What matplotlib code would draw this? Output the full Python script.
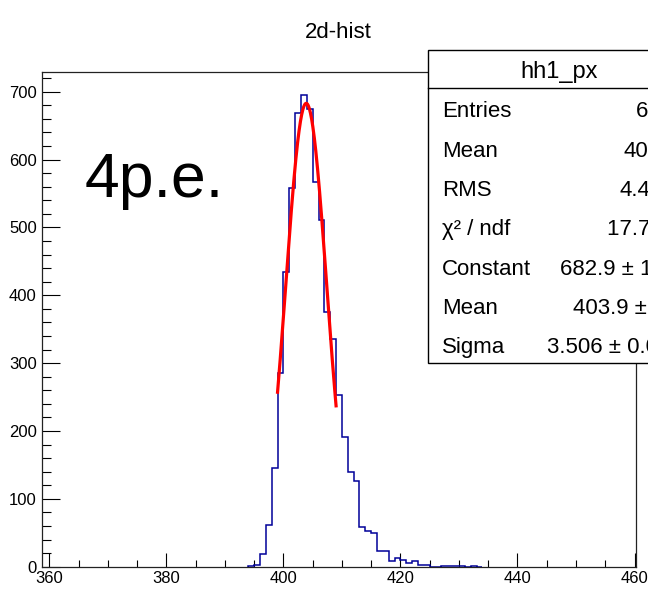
import numpy as np
import matplotlib
matplotlib.use("Agg")
import matplotlib.pyplot as plt
from matplotlib.patches import Rectangle
from matplotlib.lines import Line2D

plt.rcParams['font.family'] = ['Liberation Sans', 'DejaVu Sans']

# histogram data (1-unit bins), counts
bin_lo = 394
counts = [1, 3, 19, 61, 146, 286, 435, 558, 668, 695,
          674, 567, 511, 376, 335, 253, 191, 139, 127, 59,
          52, 50, 23, 23, 9, 13, 10, 5, 9, 2,
          2, 0, 0, 1, 1, 1, 1, 0, 1, 0]
edges = np.arange(bin_lo, bin_lo + len(counts) + 1)

# gaussian fit shown in the stats box
fit_const = 682.9
fit_mean = 403.9
fit_sigma = 3.506
fit_range = (399.0, 409.0)

title = "2d-hist"
label = "4p.e."
stats_name = "hh1_px"
stats_keys = ["Entries", "Mean", "RMS", "\u03c7\u00b2 / ndf", "Constant", "Mean", "Sigma"]
stats_vals = ["6306", "404.5", "4.468", "17.72 / 8", "682.9 \u00b1 11.0",
              "403.9 \u00b1 0.0", "3.506 \u00b1 0.036"]

W, H = 648, 590
fig = plt.figure(figsize=(W / 100, H / 100), dpi=100)

def fx(x):
    return x / W

def fy(y):
    return 1 - y / H

ax = fig.add_axes([fx(42.3), fy(566.7), (635.7 - 42.3) / W, (566.7 - 71.7) / H])

ax.stairs(counts, edges, color='#000099', lw=1.1, zorder=2)

xf = np.linspace(fit_range[0], fit_range[1], 200)
yf = fit_const * np.exp(-0.5 * ((xf - fit_mean) / fit_sigma) ** 2)
ax.plot(xf, yf, color='#ff0000', lw=2.3, zorder=3)

ax.set_xlim(358.8, 460.2)
ax.set_ylim(0, 729.5)
ax.set_xticks(np.arange(360, 461, 20))
ax.set_xticks(np.arange(360, 461, 5), minor=True)
ax.set_yticks(np.arange(0, 701, 100))
ax.set_yticks(np.arange(0, 721, 20), minor=True)

ax.tick_params(axis='x', which='major', direction='in', length=10, width=0.8, labelsize=12, pad=3)
ax.tick_params(axis='x', which='minor', direction='in', length=5, width=0.8)
ax.tick_params(axis='y', which='major', direction='in', length=13, width=0.8, labelsize=12, pad=4)
ax.tick_params(axis='y', which='minor', direction='in', length=6.5, width=0.8)
for s in ax.spines.values():
    s.set_linewidth(0.9)
    s.set_color('#222222')

fig.text(fx(338), fy(32), title, ha='center', va='center', fontsize=16)
fig.text(fx(85), fy(197), label, ha='left', va='baseline', fontsize=45)

# stats box (runs off the right edge, as in the original)
bx0, bx1, by0, by1, bsep = 428.3, 690, 50, 363.3, 88.3
fig.add_artist(Rectangle((fx(bx0), fy(by1)), (bx1 - bx0) / W, (by1 - by0) / H,
                         transform=fig.transFigure, facecolor='white',
                         edgecolor='black', lw=1.0, zorder=5))
fig.add_artist(Line2D([fx(bx0), fx(bx1)], [fy(bsep), fy(bsep)],
                      transform=fig.transFigure, color='black', lw=1.0, zorder=6))
fig.text(fx(559), fy(77.7), stats_name, ha='center', va='baseline', fontsize=17, zorder=7)

row_h = (by1 - bsep) / len(stats_keys)
val_x = [636, 624, 619, 607, 560, 573, 547]
for i, (k, v) in enumerate(zip(stats_keys, stats_vals)):
    yb = bsep + row_h * (i + 0.74)
    fig.text(fx(442), fy(yb), k, ha='left', va='baseline', fontsize=16, zorder=7)
    fig.text(fx(val_x[i]), fy(yb), v, ha='left', va='baseline', fontsize=16, zorder=7)

fig.savefig("out.png", dpi=100)
